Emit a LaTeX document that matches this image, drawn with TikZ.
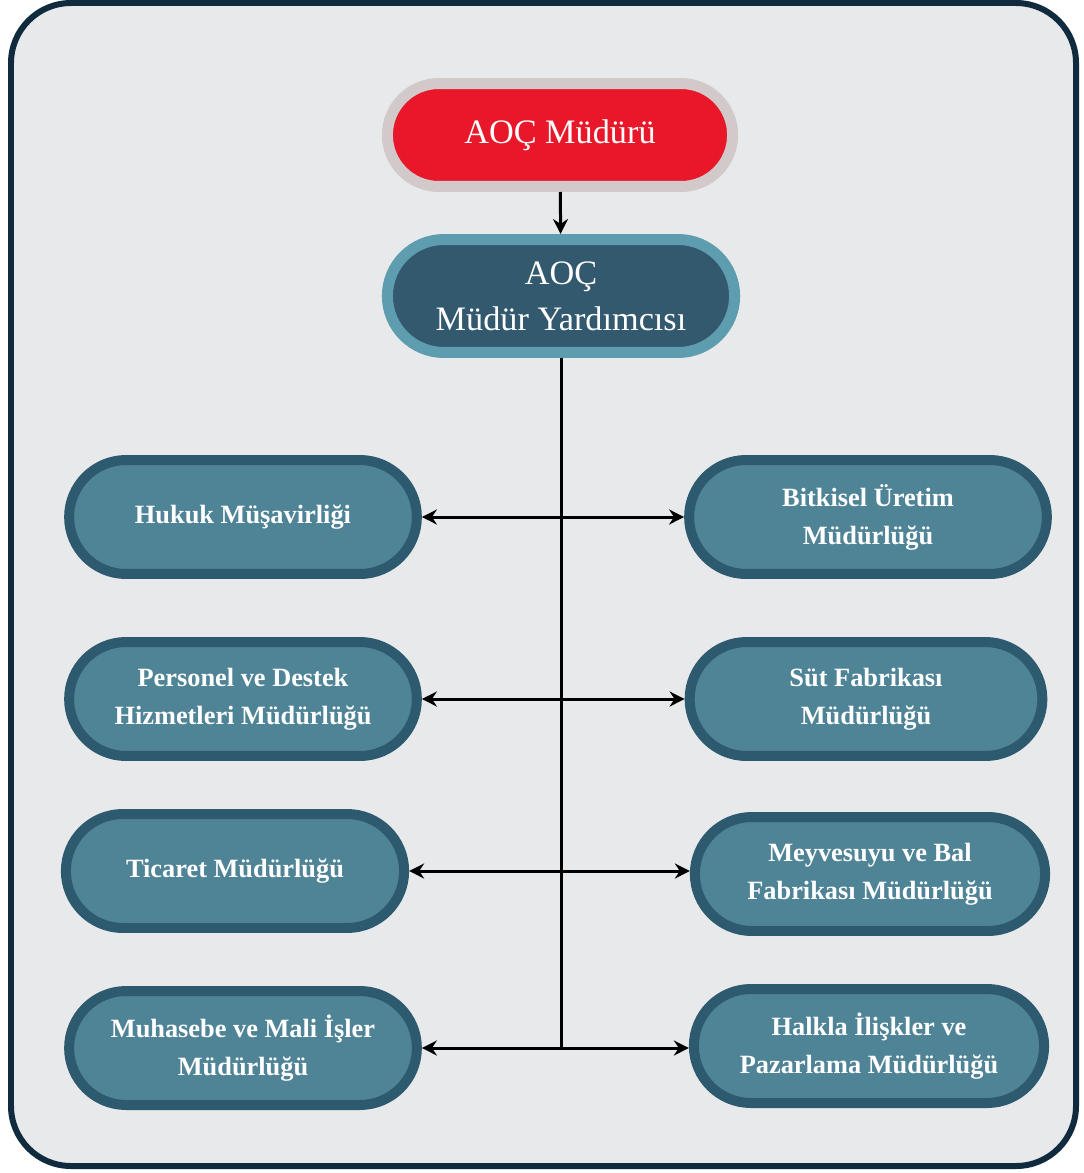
\documentclass[tikz,border=0pt]{standalone}
\usepackage{fontspec}
\setmainfont{Liberation Serif}
\usepackage{xcolor}
\usetikzlibrary{shapes.misc,arrows.meta}

\definecolor{framecol}{HTML}{0F2B3D}
\definecolor{bgcol}{HTML}{E8E9EB}
\definecolor{redfill}{HTML}{E8182A}
\definecolor{redring}{HTML}{D2CACA}
\definecolor{darkfill}{HTML}{33596F}
\definecolor{lightring}{HTML}{5E9CAF}
\definecolor{unitfill}{HTML}{4F8396}
\definecolor{unitring}{HTML}{2E5A70}

\begin{document}
\begin{tikzpicture}[x=0.02cm,y=-0.02cm,
  topbox/.style={rounded rectangle, line width=0.22cm, minimum width=7.14cm, minimum height=2.06cm,
    text=white, font=\fontsize{19.5}{26}\selectfont, align=center},
  unitbox/.style={rounded rectangle, draw=unitring, fill=unitfill, line width=0.2cm,
    minimum width=7.19cm, minimum height=2.28cm, text=white,
    font=\bfseries\fontsize{15}{21.6}\selectfont, align=center},
  link/.style={line width=0.06cm, {Stealth[length=0.3cm,width=0.3cm]}-{Stealth[length=0.3cm,width=0.3cm]}}]
\useasboundingbox (0,0) rectangle (1084,1173);

% Frame
\draw[line width=0.12cm, draw=framecol, fill=bgcol, rounded corners=1.2cm] (11,3) rectangle (1076,1166);

% Top
\node[topbox, draw=redring, fill=redfill] (mudur) at (560,135) {AOÇ Müdürü};
\node[topbox, draw=lightring, fill=darkfill, minimum width=7.18cm, minimum height=2.26cm] (yard) at (561,296) {AOÇ\\Müdür Yardımcısı};

% Left units
\node[unitbox] (hukuk) at (243,517) {Hukuk Müşavirliği};
\node[unitbox] (personel) at (243,699) {Personel ve Destek\\Hizmetleri Müdürlüğü};
\node[unitbox, minimum width=7.0cm] (ticaret) at (235,871) {Ticaret Müdürlüğü};
\node[unitbox] (muhasebe) at (243,1048) {Muhasebe ve Mali İşler\\Müdürlüğü};

% Right units
\node[unitbox, minimum width=7.39cm] (bitkisel) at (868,517) {Bitkisel Üretim\\Müdürlüğü};
\node[unitbox, minimum width=7.29cm] (sut) at (866,699) {Süt Fabrikası\\Müdürlüğü};
\node[unitbox, minimum width=7.24cm] (meyve) at (870,874) {Meyvesuyu ve Bal\\Fabrikası Müdürlüğü};
\node[unitbox, minimum width=7.24cm] (halkla) at (869,1046) {Halkla İlişkler ve\\Pazarlama Müdürlüğü};

% Arrows
\draw[line width=0.06cm, -{Stealth[length=0.3cm,width=0.3cm]}] (mudur) -- (yard);
\coordinate (bottom) at (yard.south |- muhasebe.east);
\draw[line width=0.06cm] (yard.south) -- (bottom);
\draw[link] (hukuk.east) -- (hukuk.east -| bitkisel.west);
\draw[link] (personel.east) -- (personel.east -| sut.west);
\draw[link] (ticaret.east) -- (ticaret.east -| meyve.west);
\draw[link] (muhasebe.east) -- (muhasebe.east -| halkla.west);
\end{tikzpicture}
\end{document}
